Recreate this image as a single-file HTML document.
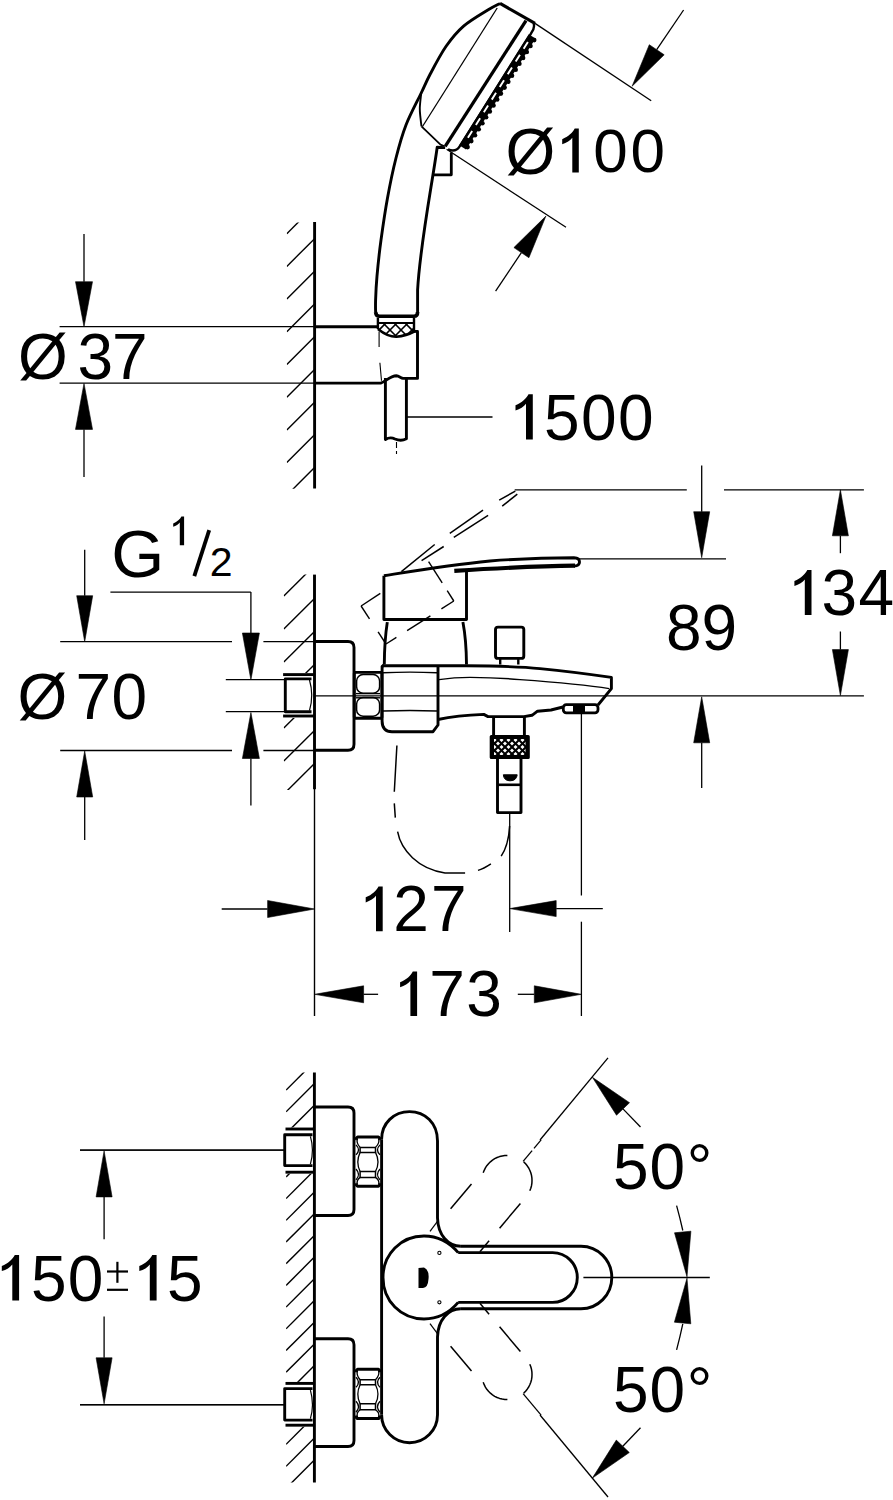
<!DOCTYPE html>
<html><head><meta charset="utf-8"><style>
html,body{margin:0;padding:0;background:#fff;}
svg{display:block;}
text{font-family:"Liberation Sans",sans-serif;fill:#000;stroke:none;}
</style></head><body>
<svg width="893" height="1500" viewBox="0 0 893 1500" stroke="#000" fill="none" stroke-linecap="butt" stroke-linejoin="round">
<defs><clipPath id="h1"><rect x="286.8" y="222.5" width="27.5" height="266.3"/></clipPath><clipPath id="knurl"><path d="M378,323 L378,329 Q388,337 396.4,336.8 Q406,336 414.5,331 L414.5,323 Z"/></clipPath><clipPath id="h2"><rect x="283.8" y="574.6" width="30.69999999999999" height="215.39999999999998"/></clipPath><clipPath id="kn2"><rect x="491" y="736" width="37.5" height="22"/></clipPath><clipPath id="h3"><rect x="286.1" y="1072.5" width="28.299999999999955" height="409.9000000000001"/></clipPath></defs>
<g clip-path="url(#h1)">
<line x1="286.8" y1="233.7" x2="314.3" y2="206.2" stroke-width="1.4" />
<line x1="286.8" y1="266.4" x2="314.3" y2="238.9" stroke-width="1.4" />
<line x1="286.8" y1="299.1" x2="314.3" y2="271.6" stroke-width="1.4" />
<line x1="286.8" y1="331.8" x2="314.3" y2="304.3" stroke-width="1.4" />
<line x1="286.8" y1="364.5" x2="314.3" y2="337.0" stroke-width="1.4" />
<line x1="286.8" y1="397.2" x2="314.3" y2="369.7" stroke-width="1.4" />
<line x1="286.8" y1="429.9" x2="314.3" y2="402.4" stroke-width="1.4" />
<line x1="286.8" y1="462.6" x2="314.3" y2="435.1" stroke-width="1.4" />
<line x1="286.8" y1="495.3" x2="314.3" y2="467.8" stroke-width="1.4" />
</g>
<line x1="314.6" y1="222.0" x2="314.6" y2="488.5" stroke-width="2.9" />
<line x1="59.6" y1="326.7" x2="314.6" y2="326.7" stroke-width="1.3" />
<line x1="59.6" y1="383.2" x2="314.6" y2="383.2" stroke-width="1.3" />
<path d="M84.0,326.7 L75.5,281.7 L92.5,281.7 Z" fill="#000" stroke="#000" stroke-width="0.6"/>
<line x1="84.0" y1="281.7" x2="84.0" y2="234.0" stroke-width="1.3" />
<path d="M84.0,383.4 L92.5,429.4 L75.5,429.4 Z" fill="#000" stroke="#000" stroke-width="0.6"/>
<line x1="84.0" y1="429.4" x2="84.0" y2="477.0" stroke-width="1.3" />
<text x="17.9" y="378.8" font-size="64">Ø</text>
<text x="77.6" y="378.8" font-size="64">3</text>
<text x="112.0" y="378.8" font-size="64">7</text>
<path d="M314.6,326.7 L377.9,326.7" stroke-width="2.9" />
<path d="M314.6,383.1 L380.7,383.1 C385,382 390,376 396.4,375.8 C399,375.8 401,378.2 403,378.3 L417.5,378.4 L417.5,331.4 L414,331.4" stroke-width="2.9" />
<line x1="379.1" y1="331.4" x2="379.1" y2="347.0" stroke-width="1.1" />
<line x1="379.9" y1="362.7" x2="381.5" y2="380.7" stroke-width="1.1" />
<path d="M375.6,312 Q376,316.3 379.5,316.3 L414,316.3 Q417.6,316.3 417.6,312" stroke-width="3.6" />
<line x1="377.9" y1="318.0" x2="377.9" y2="329.0" stroke-width="2.4" />
<line x1="414.0" y1="318.0" x2="414.0" y2="331.0" stroke-width="2.4" />
<line x1="378.0" y1="322.9" x2="414.0" y2="322.9" stroke-width="2.0" />
<path d="M377.9,329 Q388,337 396.4,336.8 Q406,336 415.2,331" stroke-width="2.6" />
<g clip-path="url(#knurl)">
<line x1="350.0" y1="323.0" x2="364.0" y2="337.0" stroke-width="1.6" />
<line x1="364.0" y1="323.0" x2="350.0" y2="337.0" stroke-width="1.6" />
<line x1="361.0" y1="323.0" x2="375.0" y2="337.0" stroke-width="1.6" />
<line x1="375.0" y1="323.0" x2="361.0" y2="337.0" stroke-width="1.6" />
<line x1="372.0" y1="323.0" x2="386.0" y2="337.0" stroke-width="1.6" />
<line x1="386.0" y1="323.0" x2="372.0" y2="337.0" stroke-width="1.6" />
<line x1="383.0" y1="323.0" x2="397.0" y2="337.0" stroke-width="1.6" />
<line x1="397.0" y1="323.0" x2="383.0" y2="337.0" stroke-width="1.6" />
<line x1="394.0" y1="323.0" x2="408.0" y2="337.0" stroke-width="1.6" />
<line x1="408.0" y1="323.0" x2="394.0" y2="337.0" stroke-width="1.6" />
<line x1="405.0" y1="323.0" x2="419.0" y2="337.0" stroke-width="1.6" />
<line x1="419.0" y1="323.0" x2="405.0" y2="337.0" stroke-width="1.6" />
<line x1="416.0" y1="323.0" x2="430.0" y2="337.0" stroke-width="1.6" />
<line x1="430.0" y1="323.0" x2="416.0" y2="337.0" stroke-width="1.6" />
<line x1="427.0" y1="323.0" x2="441.0" y2="337.0" stroke-width="1.6" />
<line x1="441.0" y1="323.0" x2="427.0" y2="337.0" stroke-width="1.6" />
</g>
<path d="M385.4,378 L385.4,439.6 Q390,436.5 395,439 Q401,441.5 406.4,438.8 L406.4,378.4" stroke-width="2.9" />
<line x1="396.5" y1="442.0" x2="396.5" y2="454.0" stroke-width="1.1" stroke-dasharray="6,3"/>
<line x1="406.4" y1="417.0" x2="492.5" y2="417.0" stroke-width="1.3" />
<path d="M532.8,439.6 L532.8,394.2 L528.5,394.2 C526.5,398.2 522.0,402.7 515.5,405.2 L515.5,410.4 C520.0,408.9 524.0,406.7 526.0,403.7 L526.0,439.6 Z" fill="#000" stroke="none"/>
<text x="544.0" y="439.6" font-size="64">5</text>
<text x="581.0" y="439.6" font-size="64">0</text>
<text x="617.9" y="439.6" font-size="64">0</text>
<path d="M500.0,3.4 C498.0,4.5 493.9,6.2 487.8,10.0 C481.7,13.8 470.6,20.1 463.6,26.1 C456.7,32.1 451.7,38.2 446.1,46.3 C440.5,54.4 434.1,66.7 430.0,74.5 C425.9,82.3 425.2,84.6 421.2,93.0 C417.2,101.4 410.2,114.2 406.0,125.0 C401.8,135.8 399.1,145.8 396.0,158.0 C392.9,170.2 390.0,184.3 387.5,198.0 C385.0,211.7 382.8,227.0 381.0,240.0 C379.2,253.0 377.9,266.0 377.0,276.0 C376.1,286.0 375.8,294.0 375.6,300.0 C375.4,306.0 375.6,310.0 375.6,312.0" stroke-width="2.9" />
<path d="M445.2,147.6 L437.2,147.2 C432,185 420,245 417.6,290 L417.6,312" stroke-width="2.9" />
<path d="M500,3.4 L535,23.4" stroke-width="3.2" />
<line x1="497.2" y1="8.0" x2="422.5" y2="126.5" stroke-width="1.3" />
<path d="M421.2,93.0 C421.0,95.5 419.9,103.8 419.8,108.0 C419.7,112.2 420.2,114.9 420.5,118.0 C420.8,121.1 421.3,125.0 421.5,126.4" stroke-width="1.9" />
<path d="M421.5,126.4 L440.5,144.6 L444,146" stroke-width="1.8" />
<path d="M526.0,20.6 L445.2,146.3" stroke-width="3.3" />
<path d="M533.6,23.4 Q535.2,27.6 531.1,33.3 L459.5,146.6 Q455.7,152.5 448.0,149.3" stroke-width="2.4" />
<path d="M532.1,36.3 L462.6,147.4" stroke-width="8.0" />
<path d="M527.9,42.0 L464.2,143.7" stroke-width="1.9" stroke="#fff" stroke-dasharray="8,7"/>
<circle cx="534.2" cy="40.1" r="2.3" fill="#000" stroke="none"/>
<circle cx="530.5" cy="46.0" r="2.3" fill="#000" stroke="none"/>
<circle cx="526.8" cy="52.0" r="2.3" fill="#000" stroke="none"/>
<circle cx="523.1" cy="57.9" r="2.3" fill="#000" stroke="none"/>
<circle cx="519.4" cy="63.8" r="2.3" fill="#000" stroke="none"/>
<circle cx="515.7" cy="69.8" r="2.3" fill="#000" stroke="none"/>
<circle cx="512.0" cy="75.7" r="2.3" fill="#000" stroke="none"/>
<circle cx="508.3" cy="81.7" r="2.3" fill="#000" stroke="none"/>
<circle cx="504.6" cy="87.6" r="2.3" fill="#000" stroke="none"/>
<circle cx="500.9" cy="93.6" r="2.3" fill="#000" stroke="none"/>
<circle cx="497.2" cy="99.5" r="2.3" fill="#000" stroke="none"/>
<circle cx="493.5" cy="105.4" r="2.3" fill="#000" stroke="none"/>
<circle cx="489.8" cy="111.4" r="2.3" fill="#000" stroke="none"/>
<circle cx="486.1" cy="117.3" r="2.3" fill="#000" stroke="none"/>
<circle cx="482.4" cy="123.3" r="2.3" fill="#000" stroke="none"/>
<circle cx="478.7" cy="129.2" r="2.3" fill="#000" stroke="none"/>
<circle cx="475.0" cy="135.2" r="2.3" fill="#000" stroke="none"/>
<circle cx="471.3" cy="141.1" r="2.3" fill="#000" stroke="none"/>
<circle cx="467.6" cy="147.1" r="2.3" fill="#000" stroke="none"/>
<path d="M432,174.8 L451.3,174.8 L451.3,152.5" stroke-width="2.8" />
<line x1="535.0" y1="23.4" x2="651.2" y2="100.8" stroke-width="1.3" />
<line x1="446.6" y1="149.3" x2="566.0" y2="227.3" stroke-width="1.3" />
<path d="M632.1,86.2 L649.3,44.7 L664.2,54.8 Z" fill="#000" stroke="#000" stroke-width="0.6"/>
<line x1="656.7" y1="49.7" x2="683.6" y2="10.0" stroke-width="1.3" />
<path d="M545.9,216.1 L528.9,257.7 L513.9,247.6 Z" fill="#000" stroke="#000" stroke-width="0.6"/>
<line x1="521.4" y1="252.6" x2="495.6" y2="291.1" stroke-width="1.3" />
<text x="505.6" y="173.6" font-size="64">Ø</text>
<path d="M578.8,172.4 L578.8,128.6 L574.7,128.6 C572.8,132.5 568.4,136.8 562.2,139.2 L562.2,144.2 C566.5,142.8 570.4,140.6 572.3,137.7 L572.3,172.4 Z" fill="#000" stroke="none"/>
<text x="593.2" y="172.4" font-size="62">0</text>
<text x="630.4" y="172.4" font-size="62">0</text>
<g clip-path="url(#h2)">
<line x1="283.8" y1="596.1" x2="314.5" y2="565.4" stroke-width="1.4" />
<line x1="283.8" y1="629.1" x2="314.5" y2="598.4" stroke-width="1.4" />
<line x1="283.8" y1="662.1" x2="314.5" y2="631.4" stroke-width="1.4" />
<line x1="283.8" y1="695.1" x2="314.5" y2="664.4" stroke-width="1.4" />
<line x1="283.8" y1="728.1" x2="314.5" y2="697.4" stroke-width="1.4" />
<line x1="283.8" y1="761.1" x2="314.5" y2="730.4" stroke-width="1.4" />
<line x1="283.8" y1="794.1" x2="314.5" y2="763.4" stroke-width="1.4" />
</g>
<rect x="283.0" y="673.0" width="31.0" height="45.0" fill="#fff" stroke="none"/>
<line x1="283.1" y1="674.6" x2="314.5" y2="674.6" stroke-width="2.9" />
<line x1="283.1" y1="716.0" x2="314.5" y2="716.0" stroke-width="2.9" />
<path d="M311.5,678.9 L285.3,678.9 L285.3,711.7 L311.5,711.7" stroke-width="2.9" />
<path d="M309.5,680 Q314,695.3 309.5,710.5" stroke-width="1.2" />
<path d="M314.5,641.5 L348,641.5 Q354,641.5 354,647.5 L354,744.3 Q354,750.3 348,750.3 L314.5,750.3" stroke-width="2.9" />
<line x1="314.5" y1="574.6" x2="314.5" y2="789.2" stroke-width="2.9" />
<line x1="314.5" y1="789.0" x2="314.5" y2="1016.0" stroke-width="1.4" />
<line x1="60.2" y1="641.7" x2="232.0" y2="641.7" stroke-width="1.3" />
<line x1="263.4" y1="641.7" x2="314.5" y2="641.7" stroke-width="1.3" />
<line x1="60.2" y1="750.5" x2="232.0" y2="750.5" stroke-width="1.3" />
<line x1="263.4" y1="750.5" x2="314.5" y2="750.5" stroke-width="1.3" />
<path d="M84.7,641.7 L76.7,595.7 L92.7,595.7 Z" fill="#000" stroke="#000" stroke-width="0.6"/>
<line x1="84.7" y1="595.7" x2="84.7" y2="549.8" stroke-width="1.3" />
<path d="M84.7,751.0 L92.7,797.0 L76.7,797.0 Z" fill="#000" stroke="#000" stroke-width="0.6"/>
<line x1="84.7" y1="797.0" x2="84.7" y2="840.0" stroke-width="1.3" />
<text x="17.4" y="718.8" font-size="64">Ø</text>
<text x="75.4" y="718.8" font-size="64">7</text>
<text x="111.5" y="718.8" font-size="64">0</text>
<line x1="110.4" y1="592.1" x2="250.9" y2="592.1" stroke-width="1.3" />
<path d="M250.9,680.0 L242.4,633.0 L259.4,633.0 Z" fill="#000" stroke="#000" stroke-width="0.6"/>
<line x1="250.9" y1="633.0" x2="250.9" y2="592.1" stroke-width="1.3" />
<path d="M250.9,712.5 L259.4,758.5 L242.4,758.5 Z" fill="#000" stroke="#000" stroke-width="0.6"/>
<line x1="250.9" y1="758.5" x2="250.9" y2="805.4" stroke-width="1.3" />
<line x1="225.8" y1="679.7" x2="285.3" y2="679.7" stroke-width="1.3" />
<line x1="225.8" y1="711.7" x2="285.3" y2="711.7" stroke-width="1.3" />
<text x="0" y="0" font-size="66" transform="translate(111.3,577) scale(1.035,1.0)">G</text>
<path d="M184.1,545.2 L184.1,516.5 L181.4,516.5 C180.1,519.0 177.3,521.9 173.2,523.4 L173.2,526.7 C176.0,525.8 178.5,524.4 179.8,522.5 L179.8,545.2 Z" fill="#000" stroke="none"/>
<line x1="194.3" y1="576.2" x2="209.2" y2="530.1" stroke-width="3.8" />
<text x="209.7" y="576.2" font-size="41">2</text>
<rect x="354.3" y="672.4" width="27.6" height="45.8" rx="1" stroke-width="2.9"/>
<rect x="356.6" y="674.6" width="23" height="18.6" rx="6.5" stroke-width="1.5"/>
<rect x="356.6" y="697.6" width="23" height="18.6" rx="6.5" stroke-width="1.5"/>
<line x1="356.0" y1="693.6" x2="380.0" y2="693.6" stroke-width="1.4" />
<line x1="356.0" y1="697.8" x2="380.0" y2="697.8" stroke-width="1.4" />
<line x1="315.1" y1="695.8" x2="863.9" y2="695.8" stroke-width="1.3" />
<path d="M382.1,667 Q382.1,665.8 384,665.8 M382.1,666 L382.1,721 Q382.1,731.7 392,731.7 L433,731.7 L438,725 L438,666" stroke-width="2.9" />
<path d="M383,672.8 Q410,671.5 437,672.8" stroke-width="1.4" />
<path d="M383,711 Q410,710 437,711" stroke-width="1.4" />
<path d="M382.1,665.8 L466,665.8 C500,666 519.6,666.5 540,668.6 C570,671.5 595,675 611.4,677.4 L611.4,688.6 L598,705" stroke-width="2.9" />
<path d="M563,707 L551,710 L537.5,711.2 L532,715.3 L524,716.6 L488,716.6 L483.8,714.4 C470,715 450,717 438,719.5" stroke-width="2.9" />
<path d="M439,679.6 C450,678 460,677.4 470,677.4 C490,677.5 505,678.3 520,679.6 C560,682.5 590,685.5 609.2,688.6" stroke-width="1.4" />
<rect x="563.3" y="704.7" width="34.7" height="8.1" rx="3" stroke-width="2.8"/>
<rect x="573" y="705.5" width="12" height="6.5" fill="#000" stroke="none"/>
<rect x="495.5" y="627.1" width="28.3" height="31.3" rx="2.5" stroke-width="2.9"/>
<path d="M500.2,658.4 L500.2,664.5 M518.3,658.4 L518.3,664.5" stroke-width="2.4" />
<path d="M383.9,575.7 L383.9,619.5 L466.5,619.5 L466.5,571.7" stroke-width="2.9" />
<path d="M383.9,575.7 C420,570 450,565 490,561 C530,558 555,557.8 574,557.8 Q579.5,558 579.5,562 Q579.5,566 574,566" stroke-width="2.9" />
<path d="M575,565.6 C540,566 500,568 454.3,570.8" stroke-width="4.2" />
<path d="M387.3,622.1 Q384.5,640 384.3,664.4" stroke-width="2.9" />
<path d="M462.9,622.1 Q466.3,640 466.5,664.4" stroke-width="2.9" />
<line x1="401.4" y1="571.7" x2="434.7" y2="544.5" stroke-width="1.5" />
<line x1="449.8" y1="533.4" x2="483.0" y2="510.2" stroke-width="1.5" />
<line x1="499.2" y1="500.2" x2="515.3" y2="491.1" stroke-width="1.5" />
<line x1="421.6" y1="560.6" x2="443.7" y2="546.5" stroke-width="1.5" />
<line x1="453.8" y1="537.4" x2="488.1" y2="515.3" stroke-width="1.5" />
<line x1="502.2" y1="506.2" x2="517.3" y2="494.1" stroke-width="1.5" />
<line x1="361.1" y1="606.0" x2="380.3" y2="593.4" stroke-width="1.4" />
<line x1="361.1" y1="606.0" x2="369.5" y2="618.8" stroke-width="1.4" />
<line x1="378.1" y1="631.9" x2="386.0" y2="644.0" stroke-width="1.4" />
<line x1="386.0" y1="644.0" x2="396.4" y2="637.4" stroke-width="1.4" />
<line x1="407.1" y1="630.6" x2="430.4" y2="615.8" stroke-width="1.4" />
<line x1="441.4" y1="608.9" x2="453.8" y2="601.0" stroke-width="1.4" />
<line x1="453.8" y1="601.0" x2="447.2" y2="590.6" stroke-width="1.4" />
<line x1="442.2" y1="582.8" x2="428.6" y2="561.6" stroke-width="1.4" />
<line x1="514.7" y1="489.8" x2="686.8" y2="489.8" stroke-width="1.3" />
<line x1="724.0" y1="489.8" x2="863.9" y2="489.8" stroke-width="1.3" />
<line x1="576.8" y1="558.8" x2="726.0" y2="558.8" stroke-width="1.3" />
<path d="M701.7,557.7 L693.7,511.7 L709.7,511.7 Z" fill="#000" stroke="#000" stroke-width="0.6"/>
<line x1="701.7" y1="511.7" x2="701.7" y2="465.6" stroke-width="1.3" />
<path d="M701.7,696.8 L709.7,742.8 L693.7,742.8 Z" fill="#000" stroke="#000" stroke-width="0.6"/>
<line x1="701.7" y1="742.8" x2="701.7" y2="788.1" stroke-width="1.3" />
<path d="M840.4,489.8 L848.4,535.8 L832.4,535.8 Z" fill="#000" stroke="#000" stroke-width="0.6"/>
<line x1="840.4" y1="535.8" x2="840.4" y2="553.2" stroke-width="1.3" />
<path d="M840.4,695.6 L832.4,649.6 L848.4,649.6 Z" fill="#000" stroke="#000" stroke-width="0.6"/>
<line x1="840.4" y1="649.6" x2="840.4" y2="631.5" stroke-width="1.3" />
<text x="666.1" y="650.0" font-size="64">8</text>
<text x="701.4" y="650.0" font-size="64">9</text>
<path d="M811.5,615.0 L811.5,570.0 L807.3,570.0 C805.3,574.0 800.8,578.4 794.4,580.9 L794.4,586.0 C798.9,584.5 802.8,582.4 804.8,579.4 L804.8,615.0 Z" fill="#000" stroke="none"/>
<text x="821.4" y="615.0" font-size="64">3</text>
<text x="858.6" y="615.0" font-size="64">4</text>
<path d="M493.6,717 L493.6,736 M524.4,717 L524.4,736" stroke-width="2.9" />
<rect x="490.8" y="736" width="37.9" height="22" fill="#000" stroke="none"/>
<rect x="494" y="739" width="31.5" height="16" fill="#fff" stroke="none"/>
<g clip-path="url(#kn2)">
<line x1="466.0" y1="736.0" x2="488.0" y2="758.0" stroke-width="2.0" />
<line x1="488.0" y1="736.0" x2="466.0" y2="758.0" stroke-width="2.0" />
<line x1="473.0" y1="736.0" x2="495.0" y2="758.0" stroke-width="2.0" />
<line x1="495.0" y1="736.0" x2="473.0" y2="758.0" stroke-width="2.0" />
<line x1="480.0" y1="736.0" x2="502.0" y2="758.0" stroke-width="2.0" />
<line x1="502.0" y1="736.0" x2="480.0" y2="758.0" stroke-width="2.0" />
<line x1="487.0" y1="736.0" x2="509.0" y2="758.0" stroke-width="2.0" />
<line x1="509.0" y1="736.0" x2="487.0" y2="758.0" stroke-width="2.0" />
<line x1="494.0" y1="736.0" x2="516.0" y2="758.0" stroke-width="2.0" />
<line x1="516.0" y1="736.0" x2="494.0" y2="758.0" stroke-width="2.0" />
<line x1="501.0" y1="736.0" x2="523.0" y2="758.0" stroke-width="2.0" />
<line x1="523.0" y1="736.0" x2="501.0" y2="758.0" stroke-width="2.0" />
<line x1="508.0" y1="736.0" x2="530.0" y2="758.0" stroke-width="2.0" />
<line x1="530.0" y1="736.0" x2="508.0" y2="758.0" stroke-width="2.0" />
<line x1="515.0" y1="736.0" x2="537.0" y2="758.0" stroke-width="2.0" />
<line x1="537.0" y1="736.0" x2="515.0" y2="758.0" stroke-width="2.0" />
<line x1="522.0" y1="736.0" x2="544.0" y2="758.0" stroke-width="2.0" />
<line x1="544.0" y1="736.0" x2="522.0" y2="758.0" stroke-width="2.0" />
<line x1="529.0" y1="736.0" x2="551.0" y2="758.0" stroke-width="2.0" />
<line x1="551.0" y1="736.0" x2="529.0" y2="758.0" stroke-width="2.0" />
<line x1="536.0" y1="736.0" x2="558.0" y2="758.0" stroke-width="2.0" />
<line x1="558.0" y1="736.0" x2="536.0" y2="758.0" stroke-width="2.0" />
<line x1="543.0" y1="736.0" x2="565.0" y2="758.0" stroke-width="2.0" />
<line x1="565.0" y1="736.0" x2="543.0" y2="758.0" stroke-width="2.0" />
</g>
<rect x="491.3" y="736.5" width="36.9" height="21" stroke-width="3.2"/>
<path d="M497.5,758 L497.5,812.6 L521,812.6 L521,758" stroke-width="2.9" />
<line x1="497.5" y1="784.8" x2="521.0" y2="784.8" stroke-width="2.6" />
<path d="M503.3,774.8 L517.2,774.8 Q516.5,780.8 510,780.8 Q504,780.8 503.3,774.8 Z" stroke-width="1" fill="#000"/>
<path d="M396.9,745.5 L394.3,791.8 M394.3,803.4 L395.3,817.6 M397.6,831.7 C401,850 418,869 445,872.9 L465.1,872.9 M478,870.4 C483,869 487,866.5 490.9,863.9 M501.2,856.2 C506,849 509,838 509.6,826" stroke-width="1.5" />
<line x1="509.7" y1="812.6" x2="509.7" y2="932.0" stroke-width="1.3" />
<line x1="581.4" y1="712.6" x2="581.4" y2="895.5" stroke-width="1.3" />
<line x1="581.4" y1="921.7" x2="581.4" y2="1016.0" stroke-width="1.3" />
<path d="M314.6,909.0 L267.6,917.5 L267.6,900.5 Z" fill="#000" stroke="#000" stroke-width="0.6"/>
<line x1="267.6" y1="909.0" x2="221.7" y2="909.0" stroke-width="1.3" />
<path d="M509.7,908.6 L556.2,900.6 L556.2,916.6 Z" fill="#000" stroke="#000" stroke-width="0.6"/>
<line x1="556.2" y1="908.6" x2="602.8" y2="908.6" stroke-width="1.3" />
<path d="M382.7,931.2 L382.7,886.4 L378.5,886.4 C376.5,890.3 372.1,894.8 365.7,897.2 L365.7,902.4 C370.1,900.9 374.0,898.7 376.0,895.8 L376.0,931.2 Z" fill="#000" stroke="none"/>
<text x="393.2" y="931.2" font-size="64">2</text>
<text x="431.0" y="931.2" font-size="64">7</text>
<path d="M314.6,994.3 L363.6,985.8 L363.6,1002.8 Z" fill="#000" stroke="#000" stroke-width="0.6"/>
<line x1="363.6" y1="994.3" x2="378.1" y2="994.3" stroke-width="1.3" />
<path d="M581.3,994.3 L534.3,1002.8 L534.3,985.8 Z" fill="#000" stroke="#000" stroke-width="0.6"/>
<line x1="534.3" y1="994.3" x2="517.8" y2="994.3" stroke-width="1.3" />
<path d="M417.1,1016.0 L417.1,971.5 L412.8,971.5 C410.9,975.4 406.5,979.8 400.1,982.3 L400.1,987.3 C404.5,985.9 408.4,983.7 410.4,980.8 L410.4,1016.0 Z" fill="#000" stroke="none"/>
<text x="429.3" y="1016.0" font-size="64">7</text>
<text x="466.2" y="1016.0" font-size="64">3</text>
<g clip-path="url(#h3)">
<line x1="286.1" y1="1090.1" x2="314.4" y2="1061.8" stroke-width="1.4" />
<line x1="286.1" y1="1111.8" x2="314.4" y2="1083.5" stroke-width="1.4" />
<line x1="286.1" y1="1133.5" x2="314.4" y2="1105.2" stroke-width="1.4" />
<line x1="286.1" y1="1155.2" x2="314.4" y2="1126.9" stroke-width="1.4" />
<line x1="286.1" y1="1176.9" x2="314.4" y2="1148.6" stroke-width="1.4" />
<line x1="286.1" y1="1198.6" x2="314.4" y2="1170.3" stroke-width="1.4" />
<line x1="286.1" y1="1220.3" x2="314.4" y2="1192.0" stroke-width="1.4" />
<line x1="286.1" y1="1242.0" x2="314.4" y2="1213.7" stroke-width="1.4" />
<line x1="286.1" y1="1263.7" x2="314.4" y2="1235.4" stroke-width="1.4" />
<line x1="286.1" y1="1285.4" x2="314.4" y2="1257.1" stroke-width="1.4" />
<line x1="286.1" y1="1307.1" x2="314.4" y2="1278.8" stroke-width="1.4" />
<line x1="286.1" y1="1328.8" x2="314.4" y2="1300.5" stroke-width="1.4" />
<line x1="286.1" y1="1350.5" x2="314.4" y2="1322.2" stroke-width="1.4" />
<line x1="286.1" y1="1372.2" x2="314.4" y2="1343.9" stroke-width="1.4" />
<line x1="286.1" y1="1393.9" x2="314.4" y2="1365.6" stroke-width="1.4" />
<line x1="286.1" y1="1444.3" x2="314.4" y2="1416.0" stroke-width="1.4" />
<line x1="286.1" y1="1466.3" x2="314.4" y2="1438.0" stroke-width="1.4" />
<line x1="286.1" y1="1488.3" x2="314.4" y2="1460.0" stroke-width="1.4" />
</g>
<rect x="283.0" y="1127.5" width="31.4" height="46.2" fill="#fff" stroke="none"/>
<line x1="285.5" y1="1129.0" x2="314.4" y2="1129.0" stroke-width="2.9" />
<line x1="285.5" y1="1172.2" x2="314.4" y2="1172.2" stroke-width="2.9" />
<path d="M312.5,1134.8 L284.7,1134.8 L284.7,1165.6 L312.5,1165.6" stroke-width="2.9" />
<path d="M310.4,1136.3 Q314.5,1150.2 310.4,1164.1" stroke-width="1.2" />
<line x1="80.0" y1="1150.2" x2="284.7" y2="1150.2" stroke-width="1.3" />
<path d="M314.4,1107 L348,1107 Q354,1107 354,1113 L354,1209.5 Q354,1215.5 348,1215.5 L314.4,1215.5" stroke-width="2.9" />
<rect x="283.0" y="1381.9" width="31.4" height="44.8" fill="#fff" stroke="none"/>
<line x1="285.5" y1="1383.4" x2="314.4" y2="1383.4" stroke-width="2.9" />
<line x1="285.5" y1="1425.2" x2="314.4" y2="1425.2" stroke-width="2.9" />
<path d="M312.5,1388.6 L284.7,1388.6 L284.7,1420.1 L312.5,1420.1" stroke-width="2.9" />
<path d="M310.4,1390.1 Q314.5,1404.7 310.4,1418.6" stroke-width="1.2" />
<line x1="80.0" y1="1404.7" x2="284.7" y2="1404.7" stroke-width="1.3" />
<path d="M314.4,1338.7 L348,1338.7 Q354,1338.7 354,1344.7 L354,1440.5 Q354,1446.5 348,1446.5 L314.4,1446.5" stroke-width="2.9" />
<line x1="314.4" y1="1072.5" x2="314.4" y2="1482.4" stroke-width="2.9" />
<path d="M355,1139.5 L357.5,1137 L378.5,1137 L381,1139.5" stroke-width="3.0" />
<path d="M355,1183.8 L357.5,1186.3 L378.5,1186.3 L381,1183.8" stroke-width="3.0" />
<rect x="360.1" y="1147.4" width="15.4" height="5.0" stroke-width="1.5"/>
<path d="M356,1144.9 Q361,1149.9 356,1154.9" stroke-width="1.3" />
<path d="M380,1144.9 Q375,1149.9 380,1154.9" stroke-width="1.3" />
<rect x="360.1" y="1171.5" width="15.4" height="5.9" stroke-width="1.5"/>
<path d="M356,1169.0 Q361,1174.45 356,1179.9" stroke-width="1.3" />
<path d="M380,1169.0 Q375,1174.45 380,1179.9" stroke-width="1.3" />
<path d="M357.5,1138.5 Q356,1143 360.1,1147.4 M378.5,1138.5 Q380,1143 375.5,1147.4" stroke-width="1.3" />
<path d="M360.1,1152.4 Q355.5,1162 360.1,1171.5 M375.5,1152.4 Q380.5,1162 375.5,1171.5" stroke-width="1.3" />
<path d="M357.5,1184.8 Q356,1180.3 360.1,1177.4 M378.5,1184.8 Q380,1180.3 375.5,1177.4" stroke-width="1.3" />
<path d="M355,1371.8 L357.5,1369.3 L378.5,1369.3 L381,1371.8" stroke-width="3.0" />
<path d="M355,1416.1 L357.5,1418.6 L378.5,1418.6 L381,1416.1" stroke-width="3.0" />
<rect x="360.1" y="1379.7" width="15.4" height="5.0" stroke-width="1.5"/>
<path d="M356,1377.2 Q361,1382.2 356,1387.2" stroke-width="1.3" />
<path d="M380,1377.2 Q375,1382.2 380,1387.2" stroke-width="1.3" />
<rect x="360.1" y="1403.8" width="15.4" height="5.9" stroke-width="1.5"/>
<path d="M356,1401.3 Q361,1406.75 356,1412.2" stroke-width="1.3" />
<path d="M380,1401.3 Q375,1406.75 380,1412.2" stroke-width="1.3" />
<path d="M357.5,1370.8 Q356,1375.3 360.1,1379.7 M378.5,1370.8 Q380,1375.3 375.5,1379.7" stroke-width="1.3" />
<path d="M360.1,1384.7 Q355.5,1394.3 360.1,1403.8 M375.5,1384.7 Q380.5,1394.3 375.5,1403.8" stroke-width="1.3" />
<path d="M357.5,1417.1 Q356,1412.6 360.1,1409.7 M378.5,1417.1 Q380,1412.6 375.5,1409.7" stroke-width="1.3" />
<line x1="381.6" y1="1139.3" x2="381.6" y2="1414.7" stroke-width="2.9" />
<path d="M381.6,1139.3 C381.6,1123 394,1111.6 409.5,1111.6 C425,1111.6 437.5,1123 437.5,1141 L437.5,1218 C438,1235 448,1246.2 460.9,1246.2" stroke-width="2.9" />
<path d="M381.6,1414.7 A27.95,28 0 0 0 437.5,1414.7 L437.5,1337 C438,1320 448,1308.8 460.9,1308.8" stroke-width="2.9" />
<path d="M460.9,1246.2 L581,1246.2 A30.8,31.3 0 0 1 581,1308.8 L460.9,1308.8" stroke-width="2.9" />
<path d="M458.2,1252.6 L552.6,1252.6 A24.7,24.9 0 0 1 552.6,1302.4 L458.2,1302.4" stroke-width="2.9" />
<path d="M458.2,1252.6 C450,1243 440,1236 424,1236 C401,1236 383,1254 383,1277.5 C383,1301 401,1319 424,1319 C440,1319 450,1312 458.2,1302.4" stroke-width="2.9" />
<line x1="430.0" y1="1231.4" x2="438.0" y2="1220.6" stroke-width="1.2" />
<line x1="430.0" y1="1323.6" x2="438.0" y2="1334.4" stroke-width="1.2" />
<line x1="583.4" y1="1277.5" x2="709.8" y2="1277.5" stroke-width="1.3" />
<circle cx="439.4" cy="1252.9" r="1.6" stroke-width="1.1"/>
<circle cx="439.4" cy="1302.3" r="1.6" stroke-width="1.1"/>
<path d="M418.5,1268 L424,1267.5 Q429.5,1270 428.5,1279 Q428,1287.5 423,1288 L418.5,1288 Z" fill="#000" stroke="none"/>
<line x1="450.6" y1="1208.8" x2="471.5" y2="1183.9" stroke-width="1.5" />
<line x1="499.6" y1="1228.2" x2="520.4" y2="1203.4" stroke-width="1.5" />
<line x1="479.9" y1="1251.7" x2="489.1" y2="1240.7" stroke-width="1.5" />
<path d="M483.2,1172.8 L484.2,1170.3 L485.4,1167.9 L486.8,1165.7 L488.5,1163.7 L490.4,1161.8 L492.5,1160.1 L494.7,1158.7 L497.1,1157.5 L499.6,1156.6 L502.2,1156.0 L504.8,1155.6 L507.4,1155.5" stroke-width="1.5" />
<path d="M523.7,1161.9 L525.6,1163.8 L527.2,1165.8 L528.7,1168.0 L529.8,1170.3 L530.8,1172.8 L531.5,1175.3 L531.9,1177.9 L532.0,1180.5 L531.9,1183.1 L531.5,1185.7 L530.8,1188.2 L529.8,1190.7" stroke-width="1.5" />
<line x1="523.1" y1="1161.3" x2="532.1" y2="1150.6" stroke-width="1.3" />
<line x1="534.0" y1="1148.3" x2="541.1" y2="1139.9" stroke-width="1.3" />
<line x1="450.6" y1="1346.2" x2="471.5" y2="1371.1" stroke-width="1.5" />
<line x1="499.6" y1="1326.8" x2="520.4" y2="1351.6" stroke-width="1.5" />
<line x1="479.9" y1="1303.3" x2="489.1" y2="1314.3" stroke-width="1.5" />
<path d="M483.2,1382.2 L484.2,1384.7 L485.4,1387.1 L486.8,1389.3 L488.5,1391.3 L490.4,1393.2 L492.5,1394.9 L494.7,1396.3 L497.1,1397.5 L499.6,1398.4 L502.2,1399.0 L504.8,1399.4 L507.4,1399.5" stroke-width="1.5" />
<path d="M523.7,1393.1 L525.6,1391.2 L527.2,1389.2 L528.7,1387.0 L529.8,1384.7 L530.8,1382.2 L531.5,1379.7 L531.9,1377.1 L532.0,1374.5 L531.9,1371.9 L531.5,1369.3 L530.8,1366.8 L529.8,1364.3" stroke-width="1.5" />
<line x1="523.1" y1="1393.7" x2="541.1" y2="1415.1" stroke-width="1.3" />
<line x1="540.0" y1="1140.0" x2="608.0" y2="1057.9" stroke-width="1.3" />
<line x1="540.0" y1="1415.0" x2="608.0" y2="1497.0" stroke-width="1.3" />
<path d="M592.4,1077.3 L629.5,1102.7 L616.5,1115.2 Z" fill="#000" stroke="#000" stroke-width="0.6"/>
<line x1="623.0" y1="1108.9" x2="640.5" y2="1127.0" stroke-width="1.3" />
<path d="M592.4,1478.1 L616.3,1440.1 L629.3,1452.5 Z" fill="#000" stroke="#000" stroke-width="0.6"/>
<line x1="622.8" y1="1446.3" x2="640.5" y2="1427.8" stroke-width="1.3" />
<path d="M687.0,1276.8 L674.5,1232.8 L690.9,1231.2 Z" fill="#000" stroke="#000" stroke-width="0.6"/>
<path d="M676.6,1205.7 Q680,1218 682.8,1230.5" stroke-width="1.3" />
<path d="M687.0,1278.2 L690.8,1323.8 L674.4,1322.2 Z" fill="#000" stroke="#000" stroke-width="0.6"/>
<path d="M676.6,1349.8 Q680,1337 682.8,1323.8" stroke-width="1.3" />
<text x="613.1" y="1189.2" font-size="64">5</text>
<text x="649.4" y="1189.2" font-size="64">0</text>
<text x="686.8" y="1189.2" font-size="64">°</text>
<text x="613.1" y="1411.5" font-size="64">5</text>
<text x="649.4" y="1411.5" font-size="64">0</text>
<text x="686.8" y="1411.5" font-size="64">°</text>
<line x1="80.0" y1="1150.2" x2="285.5" y2="1150.2" stroke-width="1.3" />
<line x1="80.0" y1="1404.9" x2="285.5" y2="1404.9" stroke-width="1.3" />
<path d="M104.1,1150.9 L112.1,1196.9 L96.1,1196.9 Z" fill="#000" stroke="#000" stroke-width="0.6"/>
<line x1="104.1" y1="1196.9" x2="104.1" y2="1239.2" stroke-width="1.3" />
<path d="M104.1,1403.8 L96.1,1357.8 L112.1,1357.8 Z" fill="#000" stroke="#000" stroke-width="0.6"/>
<line x1="104.1" y1="1357.8" x2="104.1" y2="1316.5" stroke-width="1.3" />
<path d="M19.1,1300.5 L19.1,1254.9 L14.8,1254.9 C12.8,1258.9 8.3,1263.4 1.8,1265.9 L1.8,1271.1 C6.3,1269.6 10.3,1267.4 12.3,1264.4 L12.3,1300.5 Z" fill="#000" stroke="none"/>
<text x="30.9" y="1300.5" font-size="64">5</text>
<text x="67.8" y="1300.5" font-size="64">0</text>
<text x="167.0" y="1300.5" font-size="64">5</text>
<path d="M156.6,1300.5 L156.6,1254.9 L152.3,1254.9 C150.3,1258.9 145.8,1263.4 139.3,1265.9 L139.3,1271.1 C143.8,1269.6 147.8,1267.4 149.8,1264.4 L149.8,1300.5 Z" fill="#000" stroke="none"/>
<line x1="107.0" y1="1271.5" x2="128.0" y2="1271.5" stroke-width="2.2" />
<line x1="117.4" y1="1261.8" x2="117.4" y2="1282.8" stroke-width="2.2" />
<line x1="107.0" y1="1289.8" x2="128.0" y2="1289.8" stroke-width="2.2" />
</svg></body></html>
